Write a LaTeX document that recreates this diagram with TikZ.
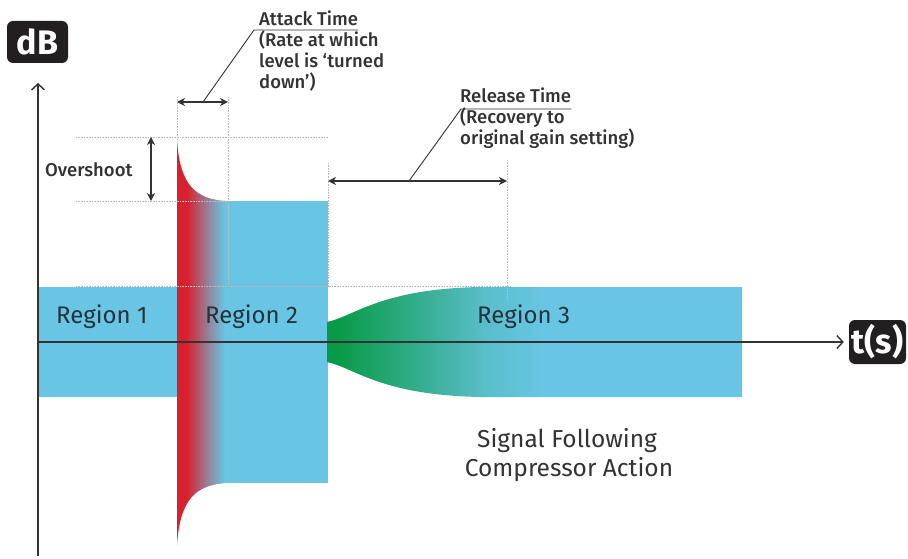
\documentclass[tikz,border=0pt]{standalone}
\usepackage{fontspec}
\setmainfont{Fira Sans}
\newfontfamily\fmed{Fira Sans Medium}
\usetikzlibrary{arrows.meta}
\definecolor{sigblue}{HTML}{68C5E3}
\definecolor{sigred}{HTML}{D8202E}
\definecolor{siggreen}{HTML}{089A46}
\colorlet{gbmidA}{siggreen!50!sigblue}
\colorlet{gbmidB}{siggreen!16!sigblue}
\colorlet{rbmid}{sigred!45!sigblue}
\definecolor{ink}{HTML}{333333}
\definecolor{guide}{HTML}{BBBBBB}
\definecolor{boxblack}{HTML}{231F20}
\definecolor{regtext}{HTML}{26333D}
\pgfdeclarehorizontalshading{redblue}{100bp}{color(0bp)=(sigred); color(34bp)=(sigred); color(53bp)=(rbmid); color(71bp)=(sigblue); color(100bp)=(sigblue)}
\pgfdeclarehorizontalshading{greenblue}{100bp}{color(0bp)=(siggreen); color(26bp)=(siggreen); color(37bp)=(gbmidA); color(44bp)=(gbmidB); color(51bp)=(sigblue); color(100bp)=(sigblue)}
\tikzset{
 lbl/.style={font=\fmed\fontsize{18.5}{20}\selectfont, text=ink, inner sep=0pt, anchor=base west},
 reg/.style={font=\fontsize{24}{28}\selectfont, text=regtext, inner sep=0pt, anchor=base west},
 captext/.style={font=\fontsize{24.5}{28}\selectfont, text=ink, inner sep=0pt, anchor=base},
 axbox/.style={fill=boxblack, rounded corners=6pt, text=white, font=\bfseries\fontsize{34}{34}\selectfont, inner sep=0pt},
 guideline/.style={draw=guide, line width=0.6pt, densely dotted},
 axisline/.style={draw=ink, line width=1.4pt, -{Straight Barb[length=6pt,width=13pt,line width=1.4pt]}},
 dimarrow/.style={draw=ink, line width=1.4pt, {Stealth[length=8pt,width=8pt,inset=2.5pt]}-{Stealth[length=8pt,width=8pt,inset=2.5pt]}},
 leaderline/.style={draw=ink, line width=0.9pt},
}
\begin{document}
\begin{tikzpicture}[x=1pt,y=-1pt]
\useasboundingbox (0,0) rectangle (908,559);
\fill[white] (0,0) rectangle (908,559);
% region 1
\fill[sigblue] (38,287) rectangle (177,397);
% region 2
\fill[sigblue] (228,201) rectangle (328,483);
% attack spike
\shade[shading=redblue] (177,140) .. controls (180,185) and (195,200) .. (229,201) -- (229,483) .. controls (195,484) and (180,500) .. (177,545) -- cycle;
% region 3
\shade[shading=greenblue] (327,322) .. controls (355,316) and (380,289) .. (480,287) -- (742,287) -- (742,397) -- (480,397) .. controls (380,395) and (355,368) .. (327,362) -- cycle;
% guide lines
\draw[guideline] (76,137) -- (328,137);
\draw[guideline] (76,201) -- (228,201);
\draw[guideline] (76,286) -- (510,286);
\draw[guideline] (177,97) -- (177,140);
\draw[guideline] (228,97) -- (228,287);
\draw[guideline] (328,163) -- (328,287);
\draw[guideline] (507,160) -- (507,300);
% axes
\node[axbox, minimum width=61pt, minimum height=42pt] (dB) at (37.5,42) {dB};
\node[axbox, minimum width=57pt, minimum height=44pt] (ts) at (877.5,342) {t(s)};
\coordinate (ybot) at (38,556);
\coordinate (ytip) at (38,83);
\coordinate (orig) at (38,342);
\draw[axisline] (ybot) -- (ytip);
\draw[axisline] (orig) -- ([xshift=-5pt]ts.west);
% dimension arrows
\coordinate (atkA) at (177,102);
\coordinate (atkB) at (228,102);
\draw[dimarrow] (atkA) -- (atkB);
\coordinate (ovsA) at (151,137);
\coordinate (ovsB) at (151,201);
\draw[dimarrow] (ovsA) -- (ovsB);
\coordinate (relA) at (328,181);
\coordinate (relB) at (507,181);
\draw[dimarrow] (relA) -- (relB);
% labels
\node[lbl] (atkT) at (259,26) {Attack Time};
\node[lbl] (atk1) at (259,47) {(Rate at which};
\node[lbl] (atk2) at (259,68) {level is ‘turned};
\node[lbl] (atk3) at (259,89) {down’)};
\node[lbl] (ovs) at (45,176) {Overshoot};
\node[lbl] (relT) at (460,103) {Release Time};
\node[lbl] (rel1) at (460,124) {(Recovery to};
\node[lbl] (rel2) at (460,145) {original gain setting)};
\node[reg] (reg1) at (56,323) {Region 1};
\node[reg] (reg2) at (205,323) {Region 2};
\node[reg] (reg3) at (477,323) {Region 3};
\node[captext] (sig1) at (567,447) {Signal Following};
\node[captext] (sig2) at (569,476) {Compressor Action};
% leaders
\coordinate (atkM) at (203,102);
\coordinate (atkC) at (254,30);
\draw[leaderline] (atkM) -- (atkC) -- (atkC -| atkT.east);
\coordinate (relM) at (409,181);
\coordinate (relC) at (461,109);
\draw[leaderline] (relM) -- (relC) -- (relC -| relT.east);
\end{tikzpicture}
\end{document}
